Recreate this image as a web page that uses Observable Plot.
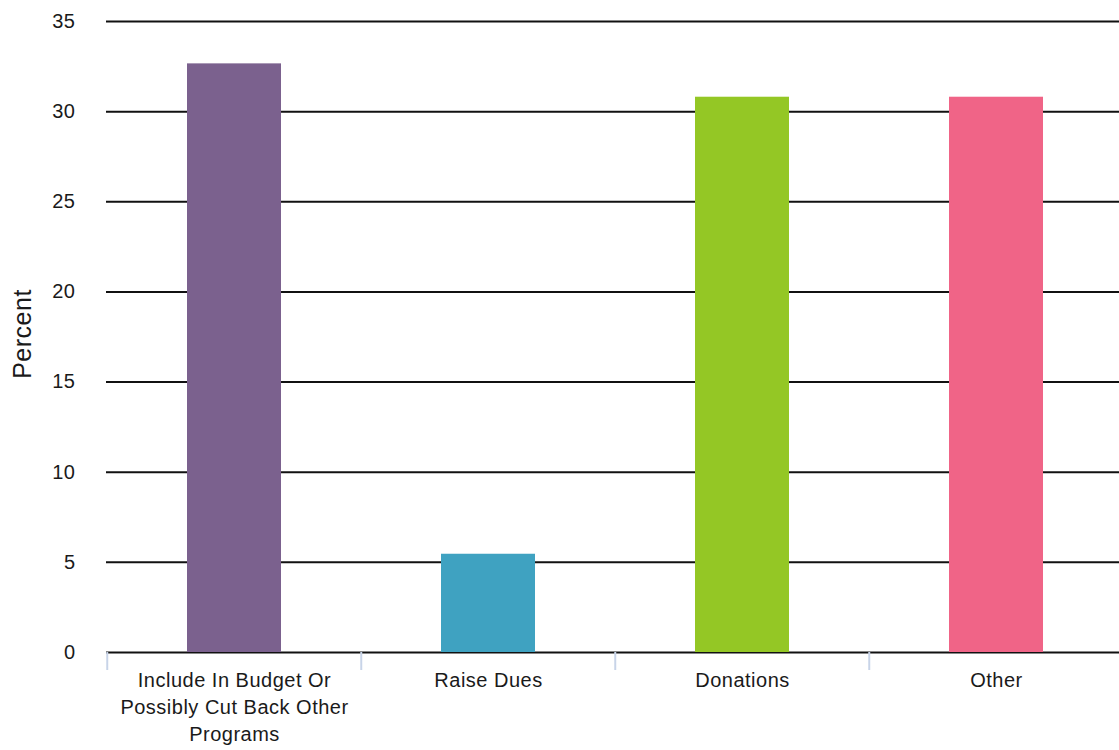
<!DOCTYPE html>
<html>
<head>
<meta charset="utf-8">
<script src="https://cdn.jsdelivr.net/npm/d3@7"></script>
<script src="https://cdn.jsdelivr.net/npm/@observablehq/plot@0.6"></script>
<style>
  html, body { margin: 0; padding: 0; background: #fff; }
  #chart svg { display: block; }
</style>
</head>
<body>
<div id="chart"></div>
<script>
const categories = ["Include In Budget Or Possibly Cut Back Other Programs", "Raise Dues", "Donations", "Other"];
const tickLabels = ["Include In Budget Or\nPossibly Cut Back Other\nPrograms", "Raise Dues", "Donations", "Other"];
const percents = [32.65, 5.45, 30.8, 30.8];
const colors = ["#7b618e", "#3fa2c1", "#94c725", "#f06487"];
const yTicks = [0, 5, 10, 15, 20, 25, 30, 35];
const yLabel = "Percent";

const data = categories.map((c, i) => ({category: c, value: percents[i], color: colors[i]}));
const labelOf = new Map(categories.map((c, i) => [c, tickLabels[i]]));

const W = 1119, H = 750, ML = 106, MR = -5;
const step = (W - ML - MR) / categories.length;

const chart = Plot.plot({
  width: W,
  height: H,
  marginLeft: ML,
  marginRight: MR,
  marginTop: 21,
  marginBottom: 98,
  style: {fontFamily: "'Liberation Sans', Arial, Helvetica, sans-serif", fontSize: "20px", letterSpacing: "0.5px", color: "#1a1a1a", background: "#fff", overflow: "hidden"},
  x: {domain: categories, paddingInner: 0.63, paddingOuter: 0.315, axis: null},
  y: {domain: [0, 35], axis: null},
  marks: [
    Plot.ruleY(yTicks, {stroke: "#111", strokeWidth: 2}),
    Plot.barY(data, {x: "category", y: "value", fill: "color"}),
    Plot.axisX({tickSize: 18, tickFormat: () => "", label: null, stroke: "#c8d4e8", strokeWidth: 2, strokeOpacity: 1, dx: -step / 2}),
    Plot.axisX({tickSize: 0, tickPadding: 16, fontSize: 20, lineHeight: 1.33, tickFormat: d => labelOf.get(d), label: null}),
    Plot.axisY(yTicks, {tickSize: 0, tickPadding: 31, fontSize: 20, label: null}),
    Plot.text([yLabel], {frameAnchor: "left", textAnchor: "middle", rotate: -90, dx: -84, dy: -3, fontSize: 25, fill: "#1a1a1a"})
  ]
});
document.getElementById("chart").appendChild(chart);
</script>
</body>
</html>
